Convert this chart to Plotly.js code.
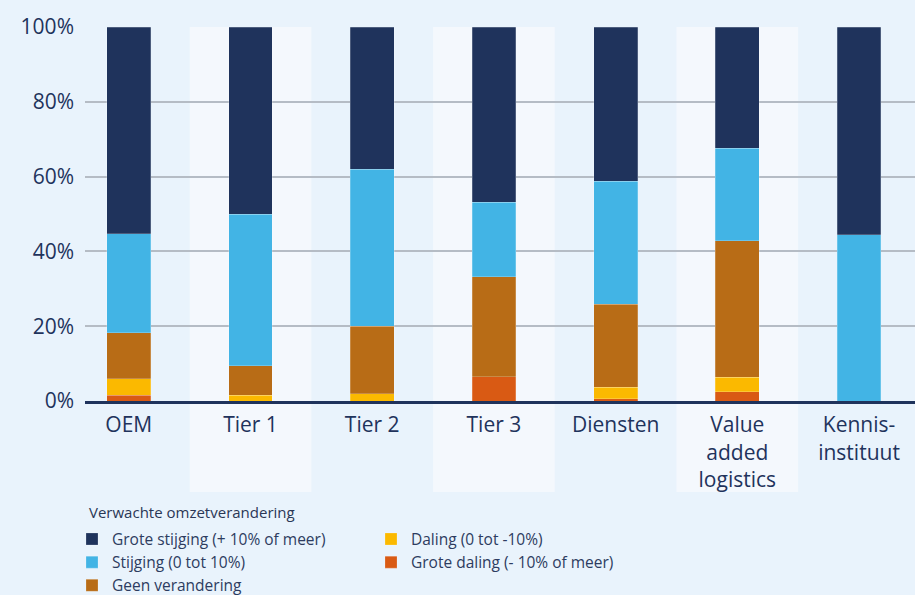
<!DOCTYPE html>
<html>
<head>
<meta charset="utf-8">
<script src="https://cdn.plot.ly/plotly-3.0.1.min.js"></script>
<style>
html,body{margin:0;padding:0;background:#e9f3fc;}
#chart{width:915px;height:595px;}
</style>
</head>
<body>
<div id="chart"></div>
<script>
var categories = ['OEM', 'Tier 1', 'Tier 2', 'Tier 3', 'Diensten', 'Value<br>added<br>logistics', 'Kennis-<br>instituut'];
var groteDaling   = [1.6, 0, 0, 6.5, 0.6, 2.5, 0];
var daling        = [4.3, 1.6, 1.9, 0, 3.1, 3.9, 0];
var geenVerandering = [12.3, 7.8, 18.1, 26.7, 22.2, 36.5, 0];
var stijging      = [26.5, 40.6, 42.0, 20.0, 32.9, 24.7, 44.4];
var groteStijging = [55.3, 50.0, 38.0, 46.8, 41.2, 32.4, 55.6];
var yTicks = [0, 20, 40, 60, 80, 100];
var yTickLabels = ['0%', '20%', '40%', '60%', '80%', '100%'];
var seriesNames = ['Grote daling (- 10% of meer)', 'Daling (0 tot -10%)', 'Geen verandering', 'Stijging (0 tot 10%)', 'Grote stijging (+ 10% of meer)'];
var legendTitle = 'Verwachte omzetverandering';

var colors = ['#d95a14', '#fbb900', '#b86c16', '#42b4e5', '#1f335c'];
var ranks = [4, 2, 5, 3, 1];
var series = [groteDaling, daling, geenVerandering, stijging, groteStijging];
var xIdx = categories.map(function(c, i){ return i; });

var traces = series.map(function(vals, k){
  return {
    type: 'bar',
    x: xIdx,
    y: vals,
    name: seriesNames[k],
    legendrank: ranks[k],
    marker: {color: colors[k], line: {width: 0.6, color: 'rgba(255,255,255,0.35)'}},
    hoverinfo: 'skip'
  };
});

var shapes = [1, 3, 5].map(function(i){
  return {type: 'rect', xref: 'x', yref: 'paper', x0: i - 0.5, x1: i + 0.5, y0: -0.243, y1: 1,
    fillcolor: '#f4f8fd', line: {width: 0}, layer: 'below'};
});

var navy = '#1f335c';
var layout = {
  width: 915, height: 595,
  paper_bgcolor: '#e9f3fc',
  plot_bgcolor: 'rgba(0,0,0,0)',
  margin: {l: 72, r: 0, t: 27, b: 194},
  barmode: 'stack',
  bargap: 0.64,
  font: {family: 'Open Sans, sans-serif', color: navy},
  xaxis: {
    domain: [13/843, 1],
    range: [-0.36, 6.46],
    tickmode: 'array', tickvals: xIdx, ticktext: categories,
    tickfont: {size: 21, color: navy},
    showgrid: false, zeroline: false,
    showline: true, linecolor: navy, linewidth: 3,
    ticks: '', ticklabelstandoff: 3, fixedrange: true
  },
  yaxis: {
    range: [0, 100],
    tickmode: 'array', tickvals: yTicks, ticktext: yTickLabels,
    tickfont: {size: 21, color: navy},
    showgrid: true, gridcolor: '#b5bcc5', gridwidth: 2,
    zeroline: false, showline: false, ticks: '',
    ticklabelstandoff: 10, fixedrange: true
  },
  showlegend: true,
  legend: {
    orientation: 'h', x: 0, xanchor: 'left', yref: 'container', y: 0.122, yanchor: 'top',
    traceorder: 'normal', entrywidth: 254, entrywidthmode: 'pixels',
    font: {size: 15.5, color: '#2d3c60'}, bgcolor: 'rgba(0,0,0,0)'
  },
  annotations: [{
    text: legendTitle, xref: 'paper', yref: 'paper', x: 0.0178, y: -0.297,
    xanchor: 'left', yanchor: 'middle', showarrow: false,
    font: {size: 15, color: '#2a3756'}
  }],
  shapes: shapes
};

Plotly.newPlot('chart', traces, layout, {displayModeBar: false, staticPlot: true});
</script>
</body>
</html>
